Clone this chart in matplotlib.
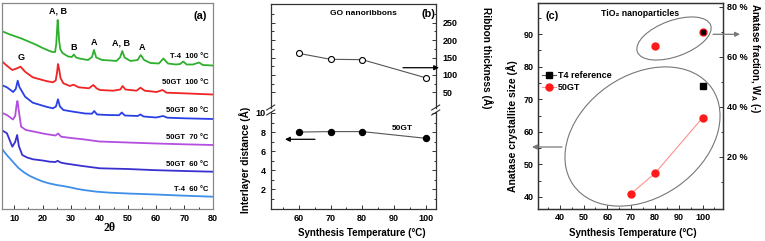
import matplotlib
matplotlib.use('Agg')
import matplotlib.pyplot as plt
from matplotlib.patches import Ellipse
from matplotlib.lines import Line2D
from matplotlib.transforms import IdentityTransform
from matplotlib.ticker import MultipleLocator, FixedLocator, FuncFormatter

# ---- (a) XRD patterns, 2theta vs intensity (a.u.) ----
t4_100_tt = [5.5, 8, 10, 12.5, 15, 17.5, 20, 22, 23.5, 24.4, 24.8, 25.1, 25.3, 25.5, 25.8, 26.2, 27, 29, 30.3, 31,
             31.8, 33, 36, 37.4, 38.1, 38.9, 41, 44, 46, 47.3, 48.1, 48.9, 51, 53.5, 54.6, 55.8, 58, 61, 62.6, 64.2,
             67, 68.5, 69.6, 70.8, 73, 75.2, 76.5, 80]
t4_100_I = [178, 175, 173, 170.5, 167.5, 164.5, 161, 158.5, 157, 157, 165, 180, 189, 182, 169, 160, 156, 152.5, 152, 154.5,
            151.5, 150.5, 149, 152, 159, 151.5, 149, 148.5, 148, 151.5, 158, 151.5, 148, 149, 154, 149, 146, 145.5, 150.5, 145.5,
            144.5, 145, 147.5, 144.5, 144.5, 146.5, 144, 143.5]

gt_100_tt = [5.5, 7.5, 9.3, 10.8, 12.2, 13.8, 16.5, 21.2, 23.6, 24.6, 25.1, 25.4, 25.8, 26.3, 27.3, 29.6, 30.9, 32.7, 36.3, 37.9,
             39, 40.2, 44.9, 47.4, 48.2, 49.2, 53.1, 54.5, 56, 60.2, 62.3, 63.7, 69.6, 80]
gt_100_I = [148, 143, 139, 140.5, 142.3, 137.3, 131.7, 128, 126.7, 128.5, 137, 145, 140, 131, 125.7, 123, 124.3, 121.7, 120.7, 124,
            120.7, 119, 118.3, 119.5, 123, 119.5, 118.3, 121.3, 118.3, 117, 119, 116.3, 115.7, 114.5]

gt_80_tt = [5.5, 7.4, 9.6, 10.5, 11.2, 11.8, 13.8, 16.5, 21.2, 23.6, 24.7, 25.4, 26.1, 27.3, 30.8, 35, 37.4, 38.2, 39.2, 43,
            47, 47.9, 49, 53.5, 54.5, 55.6, 60, 62.5, 64, 70, 80]
gt_80_I = [124, 121.7, 117, 120, 128.3, 122, 112.3, 106.3, 102.3, 100.7, 102.5, 109.7, 102.5, 99, 97.3, 95.5, 95.3, 98, 94.5, 94,
           93.8, 96.5, 93.5, 93, 94.5, 92.5, 91.5, 93, 91.3, 90.7, 90]

gt_70_tt = [5.5, 7.4, 9.5, 10.3, 10.8, 11.1, 11.5, 12.4, 14.1, 17.1, 21, 24.5, 25.5, 26.5, 30, 34.3, 40, 50, 60, 70, 80]
gt_70_I = [96.3, 94, 89.5, 93, 104, 108, 100, 82.3, 79, 77.3, 75, 73.5, 75.5, 72.3, 71, 69.7, 67.5, 66.5, 65.5, 64.7, 64]

gt_60_tt = [5.5, 7.4, 9.3, 10.3, 11.0, 11.6, 12.8, 14.5, 16.6, 20, 22.5, 24.5, 25.3, 26.3, 28, 34, 40.2, 50, 60, 70, 80]
gt_60_I = [79, 75.7, 62.3, 67, 74, 63, 54, 51.5, 49.7, 48.5, 47.3, 47, 48.2, 46.5, 45.5, 43, 40.7, 40, 38.8, 38, 37.3]

t4_60_tt = [5.5, 6.5, 7.5, 8.4, 10, 11.6, 13.5, 15.5, 17.8, 20.2, 22.5, 24.9, 27.2, 29.6, 32, 34.4, 39.1, 43.8, 50, 60, 70, 80]
t4_60_I = [60.7, 57, 53.5, 50.7, 45.5, 40.7, 36.5, 33, 30, 27.3, 25.5, 24, 23, 21.7, 20.2, 19, 17.3, 16.3, 15.5, 14.5, 13.3, 12.3]

curve_labels = ['T-4  100 \u00b0C', '50GT  100 \u00b0C', '50GT  80 \u00b0C', '50GT  70 \u00b0C', '50GT  60 \u00b0C', 'T-4  60 \u00b0C']
label_I = [153, 126.3, 98.7, 71.3, 44, 19.5]
peak_names = ['A, B', 'B', 'A', 'A, B', 'A', 'G']
peak_tt = [25.4, 31.1, 38.2, 47.6, 55.0, 12.5]
peak_I = [198, 162, 167, 166, 162, 152]

# ---- (b) GO nanoribbons ----
temp_b = [60, 70, 80, 100]
interlayer = [8.0, 8.05, 8.05, 7.35]
ribbon = [162, 145, 144, 92]

# ---- (c) TiO2 nanoparticles ----
temp_gt_size = [70, 80, 100]
size_gt = [41.0, 47.2, 64.3]
temp_t4 = [100]
size_t4 = [74.2]
temp_gt_frac = [80, 100]
frac_gt = [64.5, 69.8]
frac_t4 = [69.8]

plt.rcParams['font.family'] = ['Liberation Sans', 'DejaVu Sans']
plt.rcParams['font.weight'] = 'bold'
plt.rcParams['mathtext.fontset'] = 'custom'
plt.rcParams['mathtext.rm'] = 'Liberation Sans:bold'
plt.rcParams['mathtext.it'] = 'Liberation Sans:bold'
plt.rcParams['mathtext.bf'] = 'Liberation Sans:bold'

W, H = 765.0, 241.0
fig = plt.figure(figsize=(W / 100, H / 100), dpi=100)


def box(l, t, r, b):
    return [l / W, 1 - b / H, (r - l) / W, (b - t) / H]


def fx(x):
    return x / W


def fy(y):
    return 1 - y / H


def arrow(x0, x1, y, color='black'):
    fig.add_artist(matplotlib.patches.FancyArrowPatch(
        (fx(x0), fy(y)), (fx(x1), fy(y)), transform=fig.transFigure,
        arrowstyle='-|>', mutation_scale=7, color=color, lw=0.9, shrinkA=0, shrinkB=0))


def ticks(ax, **kw):
    ax.tick_params(which='both', direction='in', labelsize=6.5, width=0.7, colors='#333333',
                   labelcolor='black', **kw)
    ax.tick_params(which='major', length=3)
    ax.tick_params(which='minor', length=1.8)


# ---------------- (a) ----------------
axa = fig.add_axes(box(1.7, 3, 213, 209))
axa.plot(t4_60_tt, t4_60_I, color='#3f8fe8', lw=1.3)
axa.plot(gt_60_tt, gt_60_I, color='#3a30d0', lw=1.3)
axa.plot(gt_70_tt, gt_70_I, color='#b44ee0', lw=1.3)
axa.plot(gt_80_tt, gt_80_I, color='#2a40e6', lw=1.3)
axa.plot(gt_100_tt, gt_100_I, color='#f02424', lw=1.3)
axa.plot(t4_100_tt, t4_100_I, color='#2eb02e', lw=1.3)
axa.set_xlim(5.55, 80.1)
axa.set_ylim(0, 206)
axa.set_yticks([])
axa.xaxis.set_major_locator(MultipleLocator(10))
axa.xaxis.set_minor_locator(MultipleLocator(5))
ticks(axa)
for s in axa.spines.values():
    s.set_color('#888888')
    s.set_linewidth(0.9)
for lab, yy in zip(curve_labels, label_I):
    axa.text(78.4, yy, lab, fontsize=5.5, ha='right', va='center')
for name, xx, yy in zip(peak_names, peak_tt, peak_I):
    axa.text(xx, yy, name, fontsize=6.5, ha='center', va='center')
axa.text(0.94, 0.935, '(a)', transform=axa.transAxes, fontsize=7.8, ha='center', va='center')
fig.text(fx(110), fy(228), '2\u03b8', fontsize=8.5, ha='center', va='center',
         family=['Liberation Serif', 'DejaVu Serif'], weight='bold')

# ---------------- (b) ----------------
axb_top = fig.add_axes(box(270.7, 4, 435.7, 108))
axb_bot = fig.add_axes(box(270.7, 112, 435.7, 209))
axb_top.plot(temp_b, ribbon, '-', color='#555555', lw=0.8, marker='o', ms=4.3,
             mfc='white', mec='black', mew=0.8)
axb_bot.plot(temp_b, interlayer, '-', color='#555555', lw=0.8, marker='o', ms=4.3,
             mfc='black', mec='black')
for ax in (axb_top, axb_bot):
    ax.set_xlim(51.1, 103.2)
    ax.xaxis.set_major_locator(MultipleLocator(10))
    ax.xaxis.set_minor_locator(MultipleLocator(5))
    for s in ax.spines.values():
        s.set_color('#333333')
        s.set_linewidth(0.9)
axb_top.set_ylim(5, 304)
axb_bot.set_ylim(-0.05, 10.1)
axb_top.spines['bottom'].set_visible(False)
axb_bot.spines['top'].set_visible(False)
axb_top.yaxis.set_major_locator(FixedLocator([50, 100, 150, 200, 250]))
axb_top.yaxis.set_minor_locator(FixedLocator([75, 125, 175, 225, 275]))
axb_bot.yaxis.set_major_locator(FixedLocator([2, 4, 6, 8, 10]))
axb_bot.yaxis.set_minor_locator(FixedLocator([1, 3, 5, 7, 9]))
ticks(axb_top, bottom=False, labelbottom=False, left=True, labelleft=False, right=True, labelright=True)
axb_top.tick_params(axis='y', which='major', pad=5)
ticks(axb_bot, left=True, labelleft=True, right=True, labelright=False)
# axis break marks
for x0 in (270.7, 435.7):
    for yc in (107.5, 112.5):
        fig.add_artist(Line2D([fx(x0 - 4), fx(x0 + 4)], [fy(yc + 2.5), fy(yc - 2.5)],
                              transform=fig.transFigure, color='#333333', lw=0.8))
fig.text(fx(363), fy(13.5), 'GO nanoribbons', fontsize=6, ha='center', va='center')
fig.text(fx(428), fy(14), '(b)', fontsize=7.8, ha='center', va='center')
axb_bot.text(92.5, 8.4, '50GT', fontsize=6, ha='center', va='center')
arrow(403, 439, 67.7)
arrow(315, 285, 139.3)
fig.text(fx(245), fy(160), 'Interlayer distance (\u00c5)', rotation=90, fontsize=7.3, ha='center', va='center')
fig.text(fx(487), fy(58), 'Ribbon thickness (\u00c5)', rotation=270, fontsize=7.3, ha='center', va='center')
fig.text(fx(362), fy(233), 'Synthesis Temperature (\u00b0C)', fontsize=7, ha='center', va='center')

# ---------------- (c) ----------------
axc = fig.add_axes(box(538.3, 3, 722.5, 208.5))
axc2 = axc.twinx()
axc.plot(temp_gt_size, size_gt, '-', color='#ff9090', lw=0.8, marker='o', ms=5,
         mfc='#ff1a1a', mec='#ff1a1a')
axc.plot(temp_t4, size_t4, 's', color='black', ms=4.2)
axc2.plot(temp_gt_frac, frac_gt, 'o', color='#ff1a1a', ms=5)
axc2.plot(temp_t4, frac_t4, 's', color='black', ms=3.4)
axc.set_xlim(31, 108.4)
axc.set_ylim(36.4, 99.6)
axc2.set_ylim(-0.6, 81.5)
axc.xaxis.set_major_locator(MultipleLocator(10))
axc.xaxis.set_minor_locator(MultipleLocator(5))
axc.yaxis.set_major_locator(FixedLocator([40, 50, 60, 70, 80, 90]))
axc.yaxis.set_minor_locator(FixedLocator([45, 55, 65, 75, 85, 95]))
axc2.yaxis.set_major_locator(FixedLocator([20, 40, 60, 80]))
axc2.yaxis.set_minor_locator(FixedLocator([10, 30, 50, 70]))
axc2.yaxis.set_major_formatter(FuncFormatter(lambda v, p: '%d %%' % v))
ticks(axc)
ticks(axc2)
for ax in (axc, axc2):
    for s in ax.spines.values():
        s.set_color('#333333')
        s.set_linewidth(0.9)
handles = [Line2D([], [], color='#555555', lw=0.8, marker='s', ms=4.2, mfc='black', mec='black'),
           Line2D([], [], color='#ff9090', lw=0.8, marker='o', ms=5, mfc='#ff1a1a', mec='#ff1a1a')]
axc.legend(handles, ['T4 reference', '50GT'], loc='upper left', bbox_to_anchor=(0.02, 0.67),
           frameon=False, fontsize=6.5, handlelength=1.5, handletextpad=0.3, labelspacing=0.35,
           borderpad=0, borderaxespad=0)
axc.text(0.075, 0.935, '(c)', transform=axc.transAxes, fontsize=7.8, ha='center', va='center')
fig.text(fx(640), fy(13.3), 'TiO\u2082 nanoparticles', fontsize=6.3, ha='center', va='center')
fig.add_artist(Ellipse((674, H - 38.5), 78, 36, angle=20, transform=IdentityTransform(),
                       fill=False, ec='#777777', lw=0.8))
fig.add_artist(Ellipse((642.5, H - 136.5), 169, 122, angle=35, transform=IdentityTransform(),
                       fill=False, ec='#777777', lw=0.8))
arrow(713, 740, 34.3, color='#777777')
arrow(562, 532, 147, color='#777777')
fig.text(fx(512), fy(126), 'Anatase crystallite size (\u00c5)', rotation=90, fontsize=7.5, ha='center', va='center')
fig.text(fx(755.5), fy(58), r'Anatase fraction, W$_{A}$ (-)', rotation=270, fontsize=7, ha='center', va='center')
fig.text(fx(633), fy(233), 'Synthesis Temperature (\u00b0C)', fontsize=7, ha='center', va='center')

fig.savefig('out.png', dpi=100)
